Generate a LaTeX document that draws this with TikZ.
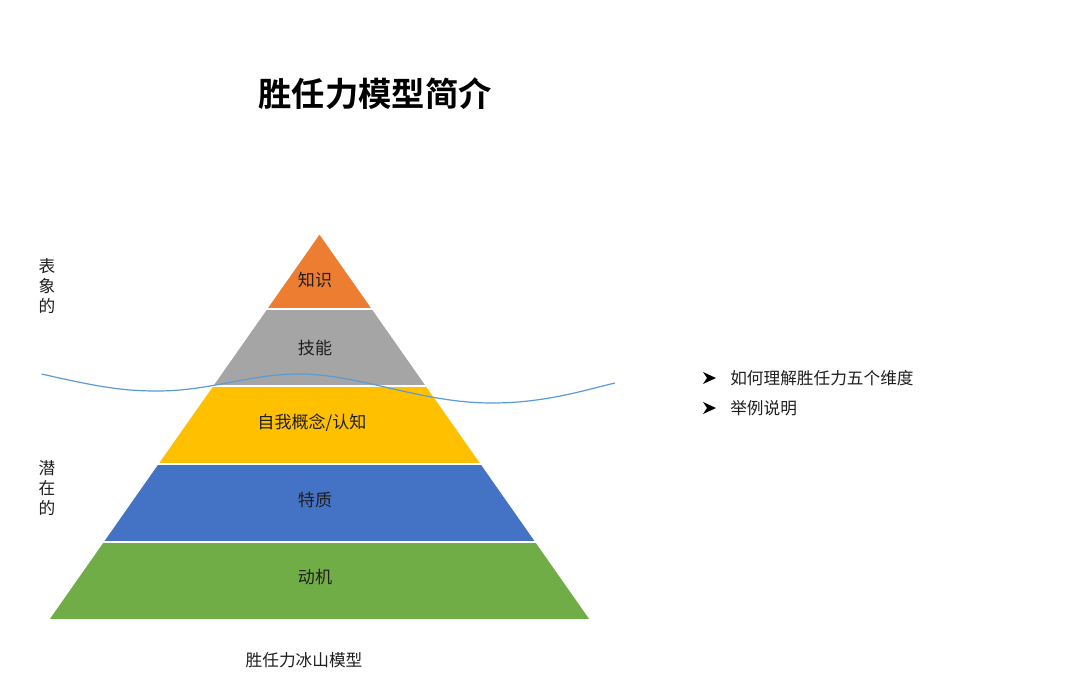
\documentclass[tikz,border=0pt]{standalone}
\usepackage{fontspec}
\setmainfont{Noto Sans CJK SC}
\newfontfamily\cjk{Noto Sans CJK SC}
\newfontfamily\cjkbold{Noto Sans CJK SC Bold}
\definecolor{cOrange}{HTML}{ED7D31}
\definecolor{cGray}{HTML}{A5A5A5}
\definecolor{cYellow}{HTML}{FFC000}
\definecolor{cBlue}{HTML}{4472C4}
\definecolor{cGreen}{HTML}{70AD47}
\definecolor{cWave}{HTML}{5B9BD5}
\definecolor{cText}{HTML}{1F1F1F}
\tikzset{
  band/.style={draw=white, line width=1.2pt, line join=miter},
  bandlabel/.style={font=\cjk\fontsize{12.8}{14}\selectfont, text=cText, inner sep=0pt},
  sidelabel/.style={font=\cjk\fontsize{12.5}{15}\selectfont, text=cText, align=center, inner sep=0pt},
  bullettext/.style={font=\cjk\fontsize{12.5}{15}\selectfont, text=cText, anchor=west, inner sep=0pt},
  bulletmark/.style={fill=black},
  wave/.style={draw=cWave, line width=0.9pt}
}
\newcommand{\arrowbullet}[1]{%
  \fill[bulletmark] ($(#1)+(-6,-6)$) -- ($(#1)+(7,0)$) -- ($(#1)+(-6,6)$) -- ($(#1)+(-2,0)$) -- cycle;}
\usetikzlibrary{calc}
\begin{document}
\begin{tikzpicture}[x=0.75pt,y=-0.75pt]
\useasboundingbox (0,0) rectangle (1080,697);
\fill[white] (0,0) rectangle (1080,697);

% title
\node[font=\cjkbold\fontsize{25}{30}\selectfont, text=black, inner sep=0pt] (title) at (375,94) {胜任力模型简介};

% pyramid bands
\path[band, fill=cOrange] (319.5,233) -- (372.8,309) -- (266.2,309) -- cycle;
\path[band, fill=cGray] (266.2,309) -- (372.8,309) -- (426.8,386) -- (212.2,386) -- cycle;
\path[band, fill=cYellow] (212.2,386) -- (426.8,386) -- (481.6,464) -- (157.4,464) -- cycle;
\path[band, fill=cBlue] (157.4,464) -- (481.6,464) -- (536.3,542) -- (102.7,542) -- cycle;
\path[band, fill=cGreen] (102.7,542) -- (536.3,542) -- (591,620) -- (48,620) -- cycle;

% band labels
\node[bandlabel] (zhishi) at (315,280) {知识};
\node[bandlabel] (jineng) at (315,348) {技能};
\node[bandlabel] (ziwo) at (312,423) {自我概念/认知};
\node[bandlabel] (tezhi) at (315,500) {特质};
\node[bandlabel] (dongji) at (315,577) {动机};

% water line
\draw[wave] (41.5,374) .. controls (95,386) and (120,391) .. (157,391)
  .. controls (210,391) and (250,374) .. (299,374)
  .. controls (360,374) and (420,403) .. (492,403)
  .. controls (545,403) and (585,390) .. (615,383);

% side labels
\node[sidelabel] (biao) at (47,286) {表\\象\\的};
\node[sidelabel] (qian) at (47,488) {潜\\在\\的};

% caption
\node[font=\cjk\fontsize{12.5}{15}\selectfont, text=cText, inner sep=0pt] (caption) at (304,660) {胜任力冰山模型};

% bullets
\coordinate (b1) at (709,378);
\coordinate (b2) at (709,408);
\arrowbullet{b1}
\arrowbullet{b2}
\node[bullettext] (t1) at (730,378) {如何理解胜任力五个维度};
\node[bullettext] (t2) at (730,408) {举例说明};
\end{tikzpicture}
\end{document}
